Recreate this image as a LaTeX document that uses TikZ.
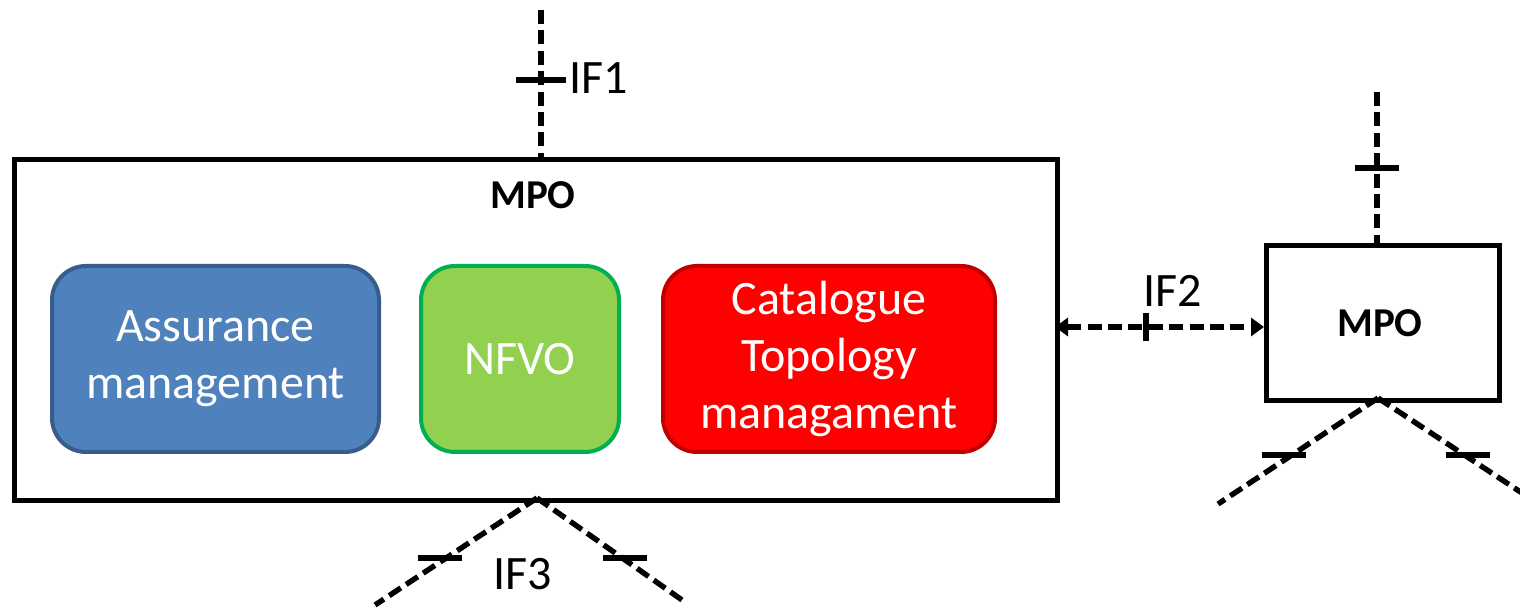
\documentclass[tikz,border=0pt]{standalone}
\usepackage{fontspec}
\setmainfont{Carlito}
\usetikzlibrary{arrows.meta}
\definecolor{asfill}{HTML}{4F81BD}
\definecolor{asline}{HTML}{385D8A}
\definecolor{nffill}{HTML}{92D050}
\definecolor{nfline}{HTML}{00B050}
\definecolor{ctfill}{HTML}{FF0000}
\definecolor{ctline}{HTML}{C00000}
\tikzset{
  mpobox/.style={draw=black, line width=2.6pt, fill=white, inner sep=0pt, anchor=north west},
  funcbox/.style={rounded corners=17pt, line width=2pt, inner sep=0pt, text=white,
    font=\fontsize{24}{28.5}\selectfont, align=center, anchor=north west},
  iface/.style={line width=2.7pt, dash pattern=on 7pt off 3.2pt},
  tickmark/.style={line width=2.7pt},
  lbl/.style={font=\fontsize{24}{28}\selectfont, inner sep=0pt},
  title/.style={font=\bfseries\fontsize{20.5}{24}\selectfont, inner sep=0pt},
  dbl/.style={{Triangle[length=6.5pt,width=9pt]}-{Triangle[length=6.5pt,width=9pt]}}
}
\begin{document}
\begin{tikzpicture}[x=0.5pt,y=-0.5pt]
\useasboundingbox (0,0) rectangle (1520,608);
% big MPO
\node[mpobox, minimum width=521.5pt, minimum height=170.5pt] (mpo) at (12,157) {};
\node[title] (mpot) at (533,195) {MPO};
\node[funcbox, fill=asfill, draw=asline, minimum width=163.5pt, minimum height=93pt] (as) at (50,264) {Assurance\\management};
\node[funcbox, fill=nffill, draw=nfline, minimum width=99pt, minimum height=93pt] (nf) at (419,264) {NFVO};
\node[funcbox, fill=ctfill, draw=ctline, minimum width=166pt, minimum height=93pt] (ct) at (661,264) {Catalogue\\Topology\\managament};
% small MPO
\node[mpobox, minimum width=116.5pt, minimum height=77.5pt] (mpo2) at (1264,243) {};
\node[title] (mpo2t) at (1380,323) {MPO};
% IF1
\coordinate (if1top) at (541,10);
\draw[iface] (if1top) -- (mpo.north west -| if1top);
\coordinate (t1) at (541,80);
\draw[tickmark] ([xshift=-12.5pt]t1) -- ([xshift=12.5pt]t1);
\node[lbl, anchor=west] (if1) at (569,78) {IF1};
% IF2
\coordinate (if2a) at (1055,327);
\coordinate (if2b) at (1264,327);
\draw[iface, dbl] (if2a) -- (if2b);
\coordinate (t2) at (1146,327);
\draw[tickmark] ([yshift=7pt]t2) -- ([yshift=-7pt]t2);
\node[lbl] (if2) at (1173,291) {IF2};
% small MPO top
\coordinate (m2top) at (1377,92);
\draw[iface] (m2top) -- (mpo2.north west -| m2top);
\coordinate (t3) at (1377,168);
\draw[tickmark] ([xshift=-11pt]t3) -- ([xshift=11pt]t3);
% IF3
\coordinate (b1) at (537,498);
\coordinate (b1l) at (375,605);
\coordinate (b1r) at (682,600);
\draw[iface] (b1) -- (b1l);
\draw[iface] (b1) -- (b1r);
\coordinate (t4) at (440,558);
\coordinate (t5) at (625,558);
\draw[tickmark] ([xshift=-11pt]t4) -- ([xshift=11pt]t4);
\draw[tickmark] ([xshift=-11pt]t5) -- ([xshift=11pt]t5);
\node[lbl] (if3) at (523,574) {IF3};
% small MPO bottom
\coordinate (b2) at (1378,398);
\coordinate (b2l) at (1218,504);
\coordinate (b2r) at (1522,493);
\draw[iface] (b2) -- (b2l);
\draw[iface] (b2) -- (b2r);
\coordinate (t6) at (1284,455);
\coordinate (t7) at (1468,455);
\draw[tickmark] ([xshift=-11pt]t6) -- ([xshift=11pt]t6);
\draw[tickmark] ([xshift=-11pt]t7) -- ([xshift=11pt]t7);
\end{tikzpicture}
\end{document}
